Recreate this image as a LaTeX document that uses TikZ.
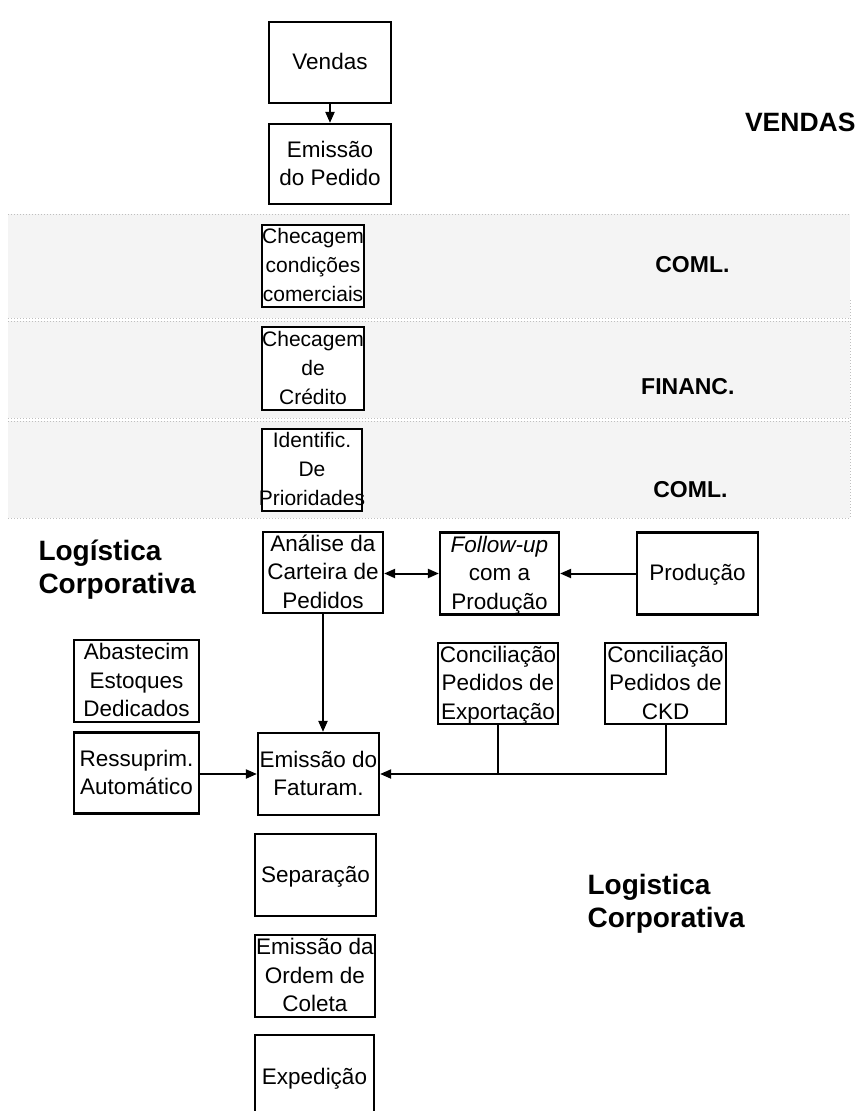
\documentclass[tikz,border=0pt]{standalone}
\usepackage{fontspec}
\setmainfont{Liberation Sans}
\usetikzlibrary{arrows.meta}

% centred stack of lines that never changes the size of its box
\newcommand\boxlines[1]{\smash{\makebox[0pt]{\raisebox{-0.3em}{\begin{tabular}{@{}c@{}}#1\end{tabular}}}}}

\tikzset{
  box/.style 2 args={draw=black, line width=2.2pt, fill=white, inner sep=0pt,
    minimum width=#1, minimum height=#2,
    font=\fontsize{22.5}{28.5}\selectfont},
  narrow/.style={font=\fontsize{21}{29}\selectfont},
  tip/.tip={Triangle[length=11pt,width=9pt]},
  flow/.style={draw=black, line width=2pt, -tip},
  flowboth/.style={draw=black, line width=2pt, tip-tip},
  link/.style={draw=black, line width=2pt},
  area/.style={font=\fontsize{23}{28}\selectfont\bfseries, align=left},
  vendasarea/.style={font=\fontsize{26.5}{30}\selectfont\bfseries, align=left},
  bigarea/.style={font=\fontsize{28}{33}\selectfont\bfseries, align=left},
  band/.style={fill=gray!9, draw=none},
  bandedge/.style={draw=gray!50, line width=1pt, dotted}
}

\begin{document}
\begin{tikzpicture}[x=1pt, y=-1pt]
\useasboundingbox (0,0) rectangle (860,1111);
\clip (0,0) rectangle (860,1111);
\fill[white] (0,0) rectangle (860,1111);

% shaded department bands
\fill[band] (8,214) rectangle (850,318);
\fill[band] (8,321) rectangle (850,418);
\fill[band] (8,421) rectangle (850,518);
\draw[bandedge] (8,214) -- (850,214);
\draw[bandedge] (8,318) -- (850,318);
\draw[bandedge] (8,321) -- (850,321);
\draw[bandedge] (8,418) -- (850,418);
\draw[bandedge] (8,421) -- (850,421);
\draw[bandedge] (8,518) -- (850,518);
\draw[bandedge] (850,300) -- (850,518);

% process boxes
\node[box={122pt}{81pt}] (vendas) at (330,62.5) {\boxlines{Vendas}};
\node[box={122pt}{80pt}] (pedido) at (330,164) {\boxlines{Emissão\\do Pedido}};
\node[box={102pt}{82pt}, narrow] (condcom) at (313,266) {\boxlines{Checagem\\condições\\comerciais}};
\node[box={102pt}{83pt}, narrow] (credito) at (313,368.5) {\boxlines{Checagem\\de\\Crédito}};
\node[box={100pt}{82pt}, narrow] (prior) at (312,470) {\boxlines{Identific.\\De\\Prioridades}};
\node[box={120pt}{81pt}] (analise) at (323,572.5) {\boxlines{Análise da\\Carteira de\\Pedidos}};
\node[box={119pt}{82pt}] (follow) at (499.5,573.5) {\boxlines{\textit{Follow-up}\\com a\\Produção}};
\node[box={121pt}{82pt}] (producao) at (697.5,573.5) {\boxlines{Produção}};
\node[box={125pt}{82pt}] (abast) at (136.5,681) {\boxlines{Abastecim\\Estoques\\Dedicados}};
\node[box={125pt}{81pt}] (ressup) at (136.5,773) {\boxlines{Ressuprim.\\Automático}};
\node[box={121pt}{82pt}] (fatur) at (318.5,774) {\boxlines{Emissão do\\Faturam.}};
\node[box={120pt}{81pt}] (export) at (498,683.5) {\boxlines{Conciliação\\Pedidos de\\Exportação}};
\node[box={121pt}{81pt}] (ckd) at (665.5,683.5) {\boxlines{Conciliação\\Pedidos de\\CKD}};
\node[box={121pt}{82pt}] (separ) at (315.5,875) {\boxlines{Separação}};
\node[box={120pt}{82pt}] (coleta) at (315,976) {\boxlines{Emissão da\\Ordem de\\Coleta}};
\node[box={119pt}{84pt}] (exped) at (314.5,1077) {\boxlines{Expedição}};

% department labels
\node[vendasarea, anchor=east] (lvendas) at (859,122) {VENDAS};
\node[area, anchor=east] (lcoml1) at (733,265) {COML.};
\node[area, anchor=east] (lfin) at (738,387) {FINANC.};
\node[area, anchor=east] (lcoml2) at (731,490) {COML.};
\node[bigarea, anchor=west] (llog1) at (35,570) {Logística\\Corporativa};
\node[bigarea, anchor=west] (llog2) at (584,904) {Logistica\\Corporativa};

% connectors
\draw[flow] (vendas.south) -- (pedido.north);
\draw[flowboth] (analise.east |- follow.west) -- (follow.west);
\draw[flow] (producao.west) -- (follow.east);
\draw[flow] (analise.south) -- (analise.south |- fatur.north);
\draw[flow] (ressup.east |- fatur.west) -- (fatur.west);
\draw[flow] (ckd.south) |- (fatur.east);
\draw[link] (export.south) -- (export.south |- fatur.east);
\end{tikzpicture}
\end{document}
